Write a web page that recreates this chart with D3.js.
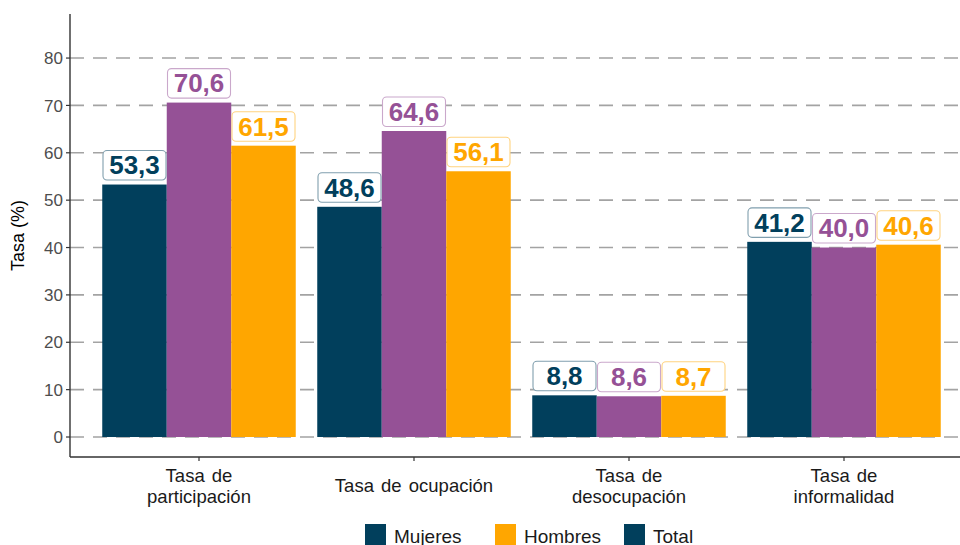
<!DOCTYPE html>
<html>
<head>
<meta charset="utf-8">
<script src="https://cdn.jsdelivr.net/npm/d3@7"></script>
<style>
  html, body { margin: 0; padding: 0; background: #fff; }
  svg { display: block; font-family: "Liberation Sans", Arial, sans-serif; }
</style>
</head>
<body>
<svg id="chart" width="960" height="545"></svg>
<script>
// ---- data ----
const categories = ["Tasa de participación", "Tasa de ocupación", "Tasa de desocupación", "Tasa de informalidad"];
const categoryLines = [["Tasa de", "participación"], ["Tasa de ocupación"], ["Tasa de", "desocupación"], ["Tasa de", "informalidad"]];
const seriesNames = ["Mujeres", "Hombres", "Total"];
const seriesColors = ["#013f5c", "#955196", "#ffa600"];
const mujeres = [53.3, 48.6, 8.8, 41.2];
const hombres = [70.6, 64.6, 8.6, 40.0];
const total = [61.5, 56.1, 8.7, 40.6];
const seriesValues = [mujeres, hombres, total];
const yTicks = [0, 10, 20, 30, 40, 50, 60, 70, 80];
const legendLabels = ["Mujeres", "Hombres", "Total"];
const legendColors = ["#013f5c", "#ffa600", "#013f5c"];
const axisTitle = "Tasa (%)";

// ---- layout ----
const svg = d3.select("#chart");
const panel = { left: 70, right: 960, top: 14, bottom: 457 };

const x = d3.scaleBand().domain(categories).range([panel.left + 0.6 * 215 - 107.5, panel.left + 0.6 * 215 - 107.5 + 215 * 4]).paddingInner(0).paddingOuter(0);
const xs = d3.scaleBand().domain(seriesNames).range([0, 193.5]);
const groupOffset = (x.bandwidth() - 193.5) / 2;
const y = d3.scaleLinear().domain([-4.22, 89.3]).range([panel.bottom, panel.top]);

// gridlines
svg.append("g").selectAll("line").data(yTicks).join("line")
  .attr("x1", panel.left).attr("x2", panel.right)
  .attr("y1", d => y(d)).attr("y2", d => y(d))
  .attr("stroke", "#a3a3a3").attr("stroke-width", 1.6)
  .attr("stroke-dasharray", "14,9");

// bars
const rows = [];
categories.forEach((c, i) => seriesNames.forEach((s, j) => rows.push({ c, s, j, v: seriesValues[j][i] })));

svg.append("g").selectAll("rect").data(rows).join("rect")
  .attr("x", d => x(d.c) + groupOffset + xs(d.s))
  .attr("width", xs.bandwidth())
  .attr("y", d => y(d.v))
  .attr("height", d => y(0) - y(d.v))
  .attr("fill", d => seriesColors[d.j]);

// labels
const fmt = v => d3.format(".1f")(v).replace(".", ",");
const lab = svg.append("g").selectAll("g").data(rows).join("g")
  .attr("transform", d => `translate(${x(d.c) + groupOffset + xs(d.s) + xs.bandwidth() / 2},${y(d.v) - 4.5})`);
lab.append("rect")
  .attr("x", -31.5).attr("width", 63)
  .attr("y", -29.5).attr("height", 29.5)
  .attr("rx", 4).attr("ry", 4)
  .attr("fill", "#fff")
  .attr("stroke", d => d3.interpolateRgb(seriesColors[d.j], "#fff")(0.5))
  .attr("stroke-width", 1.1);
lab.append("text")
  .attr("text-anchor", "middle")
  .attr("y", -5.6)
  .attr("font-size", 26).attr("font-weight", "bold")
  .attr("fill", d => seriesColors[d.j])
  .text(d => fmt(d.v));

// axes lines
svg.append("line").attr("x1", panel.left).attr("x2", panel.left).attr("y1", panel.top).attr("y2", panel.bottom)
  .attr("stroke", "#333").attr("stroke-width", 1.4);
svg.append("line").attr("x1", panel.left).attr("x2", panel.right).attr("y1", panel.bottom).attr("y2", panel.bottom)
  .attr("stroke", "#333").attr("stroke-width", 1.4);

// y ticks
const yt = svg.append("g").selectAll("g").data(yTicks).join("g")
  .attr("transform", d => `translate(${panel.left},${y(d)})`);
yt.append("line").attr("x1", -4).attr("x2", 0).attr("stroke", "#333").attr("stroke-width", 1.2);
yt.append("text").attr("x", -7).attr("dy", "0.36em").attr("text-anchor", "end")
  .attr("font-size", 17).attr("fill", "#4d4d4d").text(d => d);

// x ticks
const xt = svg.append("g").selectAll("g").data(categories).join("g")
  .attr("transform", d => `translate(${x(d) + x.bandwidth() / 2},${panel.bottom})`);
xt.append("line").attr("y1", 0).attr("y2", 4).attr("stroke", "#333").attr("stroke-width", 1.2);
xt.append("text").attr("text-anchor", "middle").attr("font-size", 18.5).attr("fill", "#1a1a1a")
  .attr("word-spacing", "2px")
  .selectAll("tspan").data((d, i) => categoryLines[i].map((t, k, a) => ({ t, k, n: a.length }))).join("tspan")
  .attr("x", 0)
  .attr("y", d => d.n === 1 ? 35 : 25 + d.k * 21)
  .text(d => d.t);

// y title
svg.append("text").attr("transform", `translate(24,${(panel.top + panel.bottom) / 2}) rotate(-90)`)
  .attr("text-anchor", "middle").attr("font-size", 18).attr("fill", "#000").text(axisTitle);

// legend
const legendX = [365, 495, 624];
const lg = svg.append("g").selectAll("g").data(legendLabels).join("g")
  .attr("transform", (d, i) => `translate(${legendX[i]},524)`);
lg.append("rect").attr("width", 21).attr("height", 21).attr("fill", (d, i) => legendColors[i]);
lg.append("text").attr("x", 29).attr("y", 18.5).attr("font-size", 19).attr("fill", "#1a1a1a").text(d => d);
</script>
</body>
</html>
